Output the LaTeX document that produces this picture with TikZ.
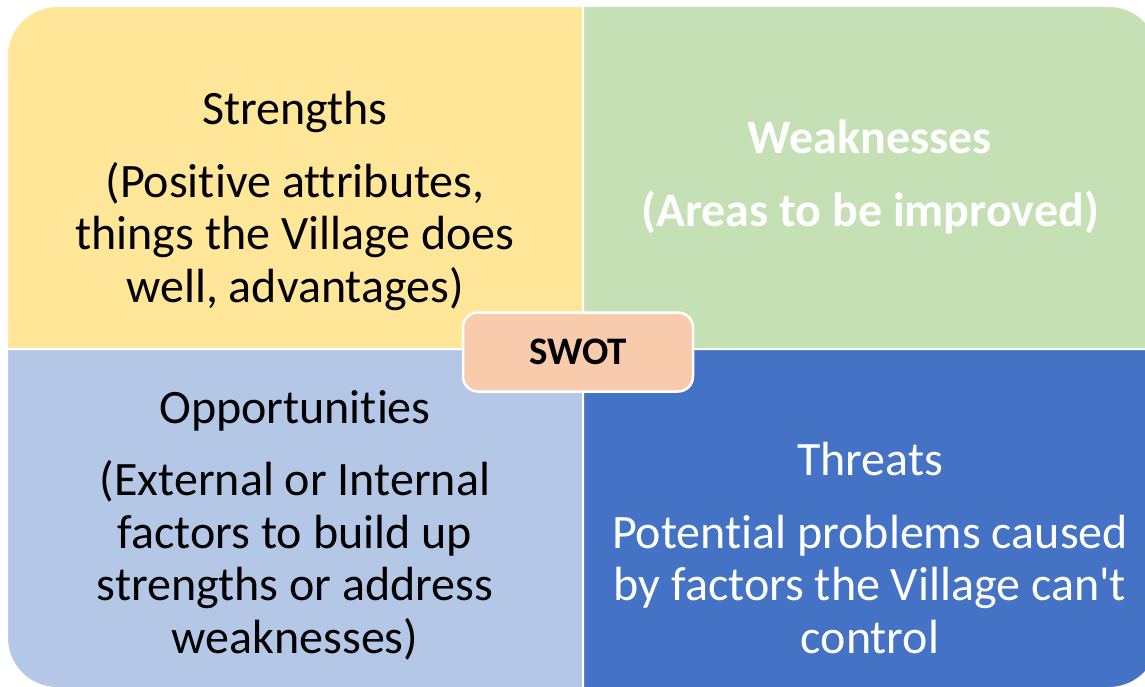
\documentclass[tikz,border=0pt]{standalone}
\usepackage{fontspec}
\setmainfont{Carlito}[Ligatures={TeXOff,NoCommon}, Contextuals=NoAlternate]
\usepackage{tikz}

\definecolor{swotyellow}{HTML}{FFE699}
\definecolor{swotgreen}{HTML}{C5E0B4}
\definecolor{swotlight}{HTML}{B4C7E7}
\definecolor{swotblue}{HTML}{4472C4}
\definecolor{swotorange}{HTML}{F8CBAD}

\tikzset{
  quadrant/.style={draw=white, line width=2pt},
  quadtext/.style={align=center, inner sep=0pt, font=\fontsize{48}{52.5}\selectfont},
  swotbox/.style={draw=white, line width=2.5pt, fill=swotorange, rounded corners=15pt,
    minimum width=230pt, minimum height=79pt, font=\fontsize{39}{44}\selectfont\bfseries}
}

\begin{document}
\begin{tikzpicture}[x=1pt, y=-1pt]

\clip (0,0) rectangle (1145,687);

% the four quadrants, one rounded corner each
\path[quadrant, fill=swotyellow]
 (583,349) -- (7,349) [rounded corners=50pt] -- (7,6) [sharp corners] -- (583,6) -- cycle;
\path[quadrant, fill=swotgreen]
 (583,349) -- (583,6) [rounded corners=50pt] -- (1159,6) [sharp corners] -- (1159,349) -- cycle;
\path[quadrant, fill=swotlight]
 (583,349) -- (7,349) [rounded corners=50pt] -- (7,688) [sharp corners] -- (583,688) -- cycle;
\path[quadrant, fill=swotblue]
 (583,349) -- (583,688) [rounded corners=50pt] -- (1159,688) [sharp corners] -- (1159,349) -- cycle;

% texts
\path
(295,201) node[quadtext] (strengths)
{Strengths\\[20pt]
(Positive attributes,\\
things the Village does\\
well, advantages)};
\path
(870,177) node[quadtext, text=white, font=\fontsize{48}{52.5}\selectfont\bfseries] (weaknesses)
{Weaknesses\\[20pt]
(Areas to be improved)};
\path
(295,525) node[quadtext] (opportunities)
{Opportunities\\[20pt]
(External or Internal\\
factors to build up\\
strengths or address\\
weaknesses)};
\path
(870,548) node[quadtext, text=white] (threats)
{Threats\\[20pt]
Potential problems caused\\
by factors the Village can't\\
control};

% centre label
\path (578,352) node[swotbox] (swot) {SWOT};

\end{tikzpicture}
\end{document}
